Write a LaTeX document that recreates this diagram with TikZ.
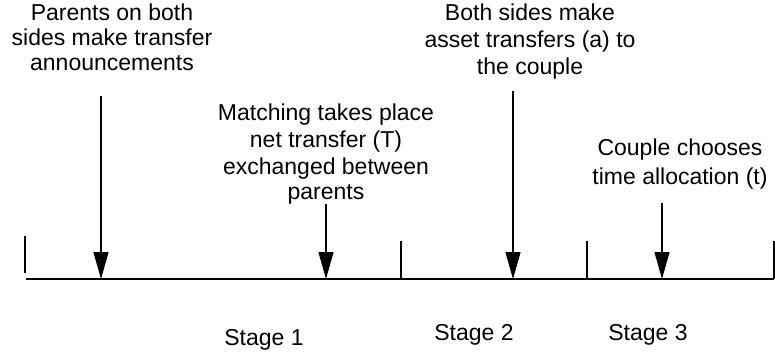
\documentclass[tikz,border=0pt]{standalone}
\usepackage{fontspec}
\setmainfont{Liberation Sans}
\usetikzlibrary{arrows.meta}
\begin{document}
\begin{tikzpicture}[x=1pt,y=-1pt,
  label/.style={font=\fontsize{23}{27}\selectfont, align=center, inner sep=0pt, anchor=north},
  stagelabel/.style={font=\fontsize{23}{27}\selectfont, inner sep=0pt, anchor=base},
  axis/.style={line width=1.3pt},
  tick/.style={line width=1.3pt},
  event/.style={line width=1.3pt, -{Triangle[width=15pt,length=27pt]}}]
\useasboundingbox (0,0) rectangle (775,356);

% timeline and stage boundaries
\coordinate (L) at (26,279);
\coordinate (R) at (774,279);
\draw[axis] (L) -- (R);
\coordinate (t0a) at (25,236); \coordinate (t0b) at (25,273);
\coordinate (t1a) at (401,241); \coordinate (t1b) at (401,279);
\coordinate (t2a) at (587,241); \coordinate (t2b) at (587,279);
\coordinate (t3a) at (774,241); \coordinate (t3b) at (774,279);
\draw[tick] (t0a) -- (t0b);
\draw[tick] (t1a) -- (t1b);
\draw[tick] (t2a) -- (t2b);
\draw[tick] (t3a) -- (t3b);

% event descriptions
\node[label] (e1) at (112,4) {Parents on both\\[-2pt]sides make transfer\\[-2pt]announcements};
\node[label] (e2) at (326,104) {Matching takes place\\net transfer (T)\\exchanged between\\[-2pt]parents};
\node[label] (e3) at (530,4) {Both sides make\\asset transfers (a) to\\the couple};
\node[label] (e4) at (680,139) {Couple chooses\\[2pt]time allocation (t)};

% event arrows onto the timeline
\coordinate (s1) at (101,96);  \coordinate (h1) at (101,279);
\coordinate (s2) at (326,204); \coordinate (h2) at (326,279);
\coordinate (s3) at (513,91);  \coordinate (h3) at (513,279);
\coordinate (s4) at (662,203); \coordinate (h4) at (662,279);
\draw[event] (s1) -- (h1);
\draw[event] (s2) -- (h2);
\draw[event] (s3) -- (h3);
\draw[event] (s4) -- (h4);

% stage names
\node[stagelabel] (st1) at (264,345) {Stage 1};
\node[stagelabel] (st2) at (474,340) {Stage 2};
\node[stagelabel] (st3) at (648,340) {Stage 3};
\end{tikzpicture}
\end{document}
